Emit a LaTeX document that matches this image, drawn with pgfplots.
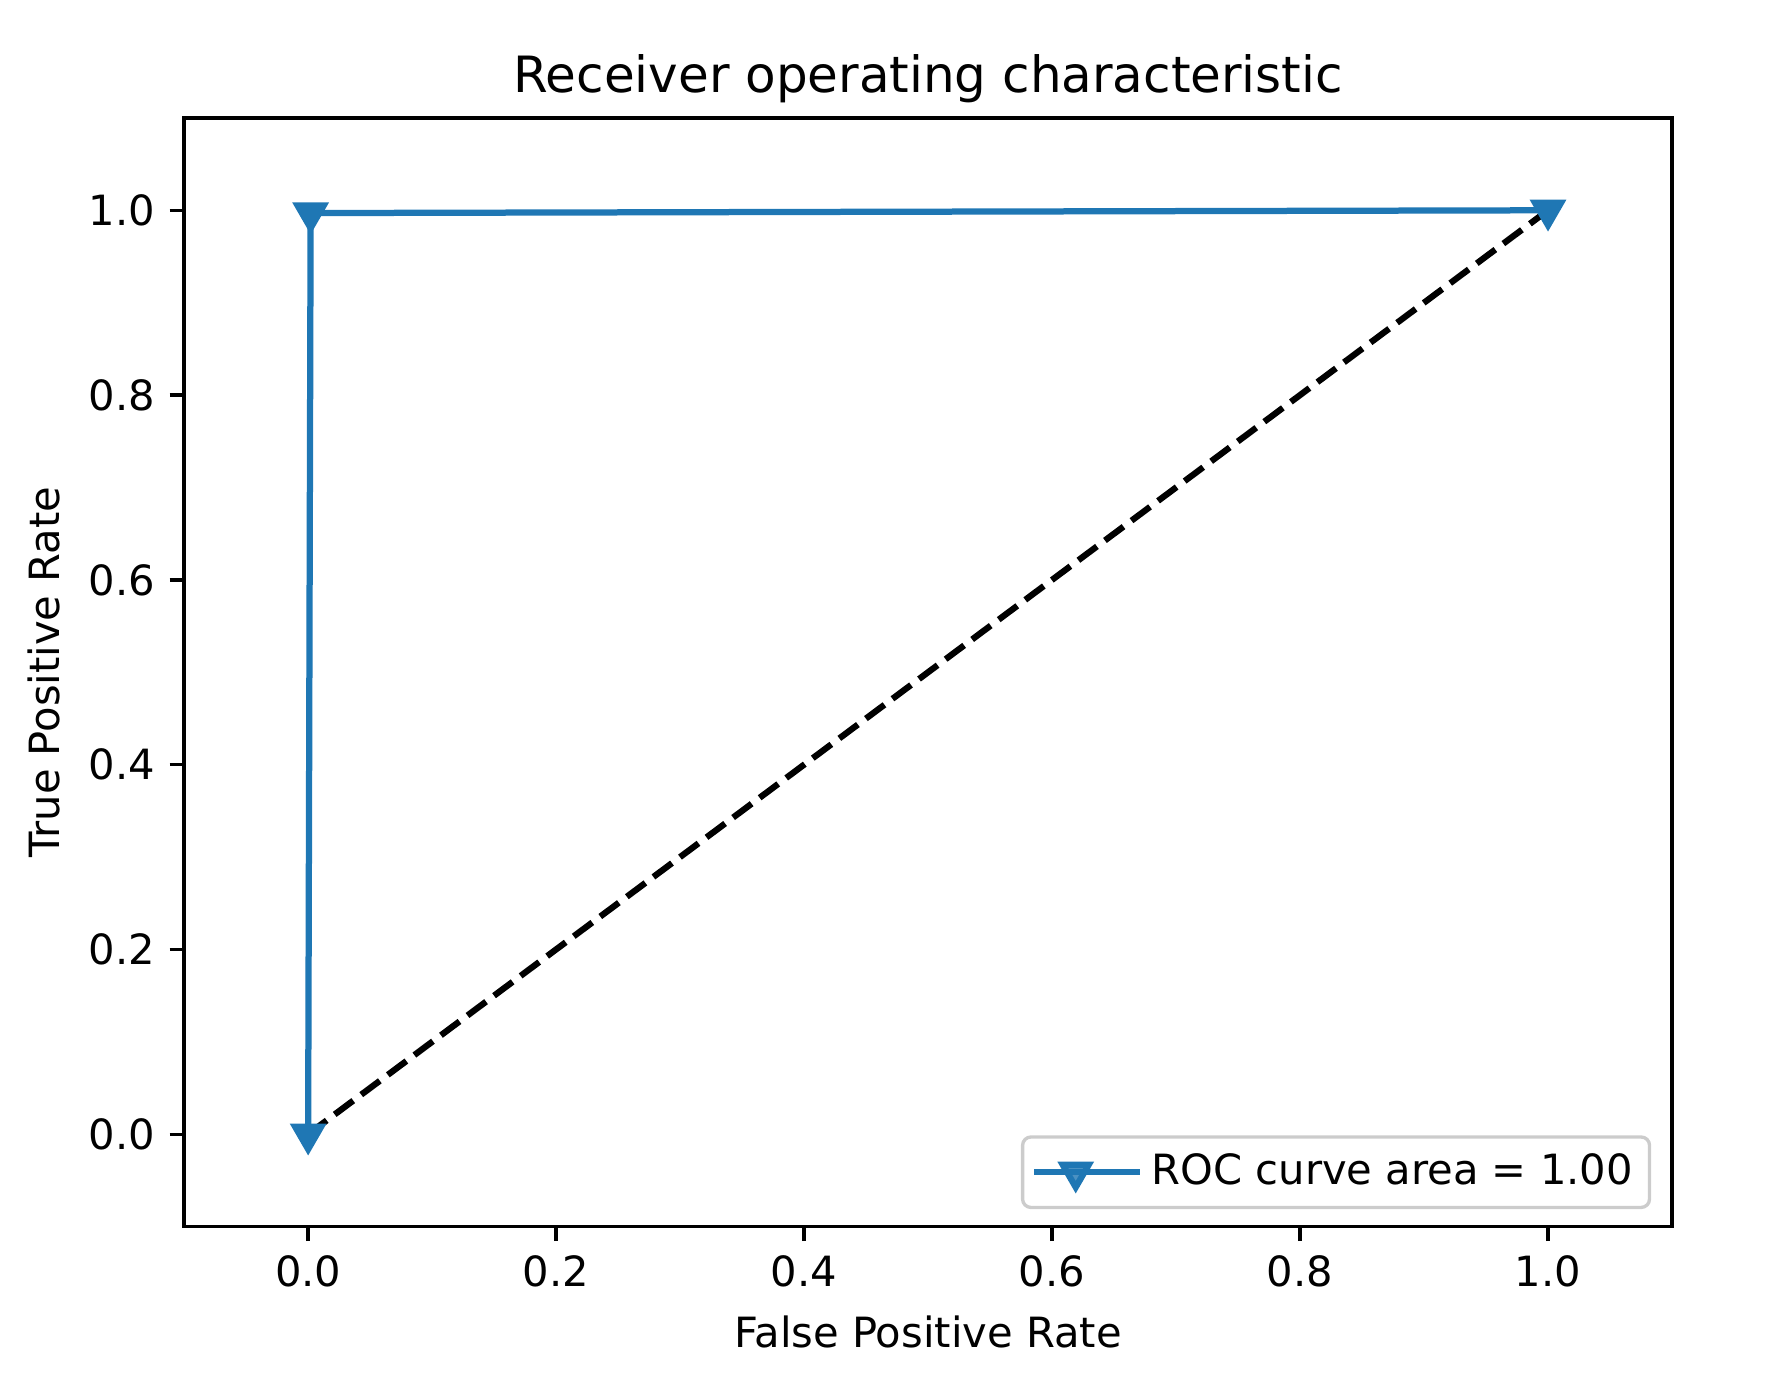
\documentclass[border=0pt]{standalone}
\usepackage{fontspec}
\setmainfont{DejaVu Sans}
\usepackage{pgfplots}
\pgfplotsset{compat=1.18}
\definecolor{mplblue}{HTML}{1F77B4}
\begin{document}
\fontsize{10bp}{12bp}\selectfont
\begin{tikzpicture}
\useasboundingbox (-44.2bp,-37.7bp) rectangle (385.9bp,294.4bp);
\begin{axis}[
  at={(0,0)}, anchor=south west,
  scale only axis,
  width=357.1bp, height=266.1bp,
  xmin=-0.1, xmax=1.1, ymin=-0.1, ymax=1.1,
  xtick={0,0.2,0.4,0.6,0.8,1.0},
  ytick={0,0.2,0.4,0.6,0.8,1.0},
  /pgf/number format/assume math mode=true,
  /pgf/number format/fixed, /pgf/number format/fixed zerofill,
  /pgf/number format/precision=1,
  tick align=outside,
  major tick length=3.5bp,
  every tick/.style={black, line width=0.8bp},
  axis line style={line width=0.8bp},
  xtick pos=bottom, ytick pos=left,
  ticklabel style={font=\fontsize{10bp}{12bp}\selectfont},
  title={Receiver operating characteristic},
  title style={font=\fontsize{12bp}{14bp}\selectfont, at={(0.5,1)}, anchor=south, yshift=-5.9bp},
  xlabel={False Positive Rate},
  ylabel={True Positive Rate},
  label style={font=\fontsize{10bp}{12bp}\selectfont},
  legend style={at={(1,0)}, anchor=south east, xshift=-5bp, yshift=4.2bp,
    draw=black!20, rounded corners=2bp, line width=0.8bp, fill=white, fill opacity=0.8, text opacity=1,
    font=\fontsize{10bp}{12bp}\selectfont, inner xsep=2bp, inner ysep=2bp},
  legend cell align=left,
  legend image code/.code={%
    \path (0bp,0bp) -- (25.5bp,0bp);
    \draw[mark repeat=2, mark phase=2] plot coordinates {(0bp,0bp) (10bp,0bp) (20bp,0bp)};},
]
\addplot[mplblue, line width=1.5bp, mark=triangle*, mark size=3.6bp,
  mark options={rotate=180, solid, fill=mplblue}]
  coordinates {(0,0) (0.002,0.997) (1,1)};
\addlegendentry{ROC curve area = 1.00}
\addplot[black, line width=1.5bp, dash pattern=on 5.55bp off 2.4bp, forget plot]
  coordinates {(0,0) (1,1)};
\end{axis}
\end{tikzpicture}
\end{document}
